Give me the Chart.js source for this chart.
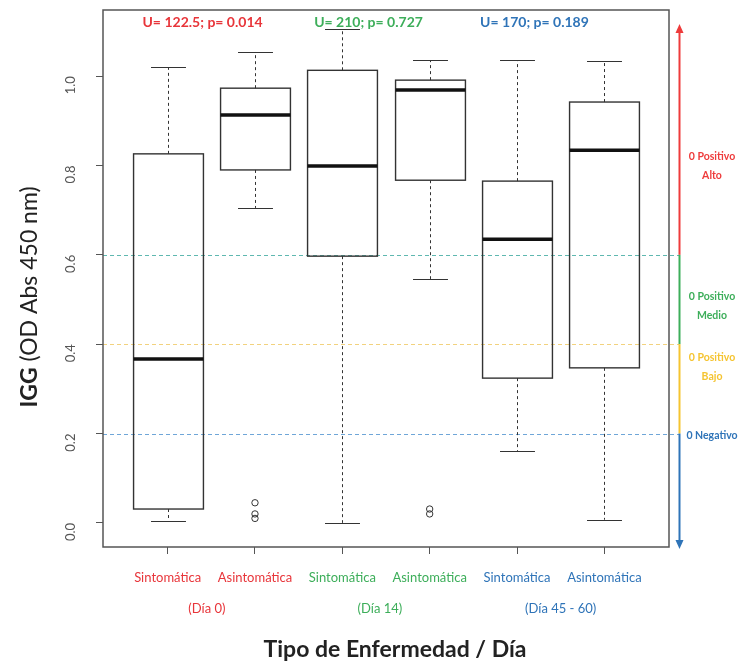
<!DOCTYPE html>
<html>
<head>
<meta charset="utf-8">
<script src="https://cdn.jsdelivr.net/npm/chart.js@4/dist/chart.umd.min.js"></script>
<style>
  html, body { margin: 0; padding: 0; background: #fff; }
  #wrap { width: 744px; height: 666px; }
</style>
</head>
<body>
<div id="wrap"><canvas id="boxChart" width="744" height="666"></canvas></div>
<script>
// Boxplot IgG par type de maladie / jour

const categories = ["Sintomática", "Asintomática", "Sintomática", "Asintomática", "Sintomática", "Asintomática"];
const groupLabels = ["(Día 0)", "(Día 14)", "(Día 45 - 60)"];
const groupLabelX = [1.45, 3.43, 5.5];
const groupColors = ["#e8353a", "#3dae5a", "#2f74b8"];
const testLabels = ["U= 122.5; p= 0.014", "U= 210; p= 0.727", "U= 170; p= 0.189"];
const testLabelX = [1.4, 3.3, 5.2];

const whiskerLow = [0.005, 0.705, 0.0, 0.546, 0.161, 0.007];
const q1Values = [0.031, 0.790, 0.597, 0.767, 0.324, 0.347];
const medianValues = [0.367, 0.913, 0.799, 0.969, 0.635, 0.834];
const q3Values = [0.826, 0.973, 1.013, 0.991, 0.765, 0.942];
const whiskerHigh = [1.020, 1.054, 1.105, 1.036, 1.036, 1.034];
const outlierValues = [[], [0.045, 0.020, 0.010], [], [0.031, 0.020], [], []];

const yTicks = [0.0, 0.2, 0.4, 0.6, 0.8, 1.0];
const cutoffValues = [0.6, 0.4, 0.2];
const cutoffColors = ["#5fb8b0", "#f2d27e", "#6fa6d8"];
const zoneLabels = [["0 Positivo", "Alto"], ["0 Positivo", "Medio"], ["0 Positivo", "Bajo"], ["0 Negativo"]];
const zoneColors = ["#ee3b3b", "#3dae5a", "#f5c431", "#2f74b8"];

const FONT = "Lato, 'Open Sans', sans-serif";

// points aberrants -> dataset scatter
const outlierPoints = [];
outlierValues.forEach((vals, i) => {
  vals.forEach(v => outlierPoints.push({ x: i + 1, y: v }));
});

const boxPlugin = {
  id: "boxPlugin",
  beforeDatasetsDraw(chart) {
    const ctx = chart.ctx;
    const x = chart.scales.x;
    const y = chart.scales.y;
    const area = chart.chartArea;

    // lignes de seuil
    ctx.save();
    ctx.lineWidth = 1.2;
    ctx.setLineDash([4, 3]);
    cutoffValues.forEach((v, i) => {
      const py = Math.round(y.getPixelForValue(v)) + 0.5;
      ctx.strokeStyle = cutoffColors[i];
      ctx.beginPath();
      ctx.moveTo(area.left, py);
      ctx.lineTo(area.right + 10, py);
      ctx.stroke();
    });
    ctx.restore();

    // boites
    ctx.save();
    const halfBox = x.getPixelForValue(1.4) - x.getPixelForValue(1);
    const halfCap = halfBox / 2;
    categories.forEach((c, i) => {
      const cx = Math.round(x.getPixelForValue(i + 1)) + 0.5;
      const yLow = y.getPixelForValue(whiskerLow[i]);
      const yQ1 = y.getPixelForValue(q1Values[i]);
      const yMed = y.getPixelForValue(medianValues[i]);
      const yQ3 = y.getPixelForValue(q3Values[i]);
      const yHigh = y.getPixelForValue(whiskerHigh[i]);

      ctx.strokeStyle = "#333";
      ctx.lineWidth = 1;
      ctx.setLineDash([3, 3]);
      ctx.beginPath();
      ctx.moveTo(cx, yQ3); ctx.lineTo(cx, yHigh);
      ctx.moveTo(cx, yQ1); ctx.lineTo(cx, yLow);
      ctx.stroke();

      ctx.setLineDash([]);
      ctx.beginPath();
      ctx.moveTo(cx - halfCap, Math.round(yHigh) + 0.5); ctx.lineTo(cx + halfCap, Math.round(yHigh) + 0.5);
      ctx.moveTo(cx - halfCap, Math.round(yLow) + 0.5); ctx.lineTo(cx + halfCap, Math.round(yLow) + 0.5);
      ctx.stroke();

      ctx.lineWidth = 1.4;
      ctx.strokeRect(cx - halfBox, yQ3, halfBox * 2, yQ1 - yQ3);

      ctx.lineWidth = 3.5;
      ctx.strokeStyle = "#111";
      ctx.beginPath();
      ctx.moveTo(cx - halfBox, yMed); ctx.lineTo(cx + halfBox, yMed);
      ctx.stroke();
    });
    ctx.restore();
  },
  afterDraw(chart) {
    const ctx = chart.ctx;
    const x = chart.scales.x;
    const y = chart.scales.y;
    const area = chart.chartArea;

    ctx.save();
    // cadre
    ctx.strokeStyle = "#555";
    ctx.lineWidth = 1.5;
    ctx.strokeRect(area.left, area.top, area.right - area.left, area.bottom - area.top);

    // tests U en haut
    ctx.font = "bold 14px " + FONT;
    ctx.textAlign = "center";
    ctx.textBaseline = "middle";
    testLabels.forEach((t, g) => {
      ctx.fillStyle = groupColors[g];
      ctx.fillText(t, x.getPixelForValue(testLabelX[g]), area.top + 12);
    });

    // jours sous l'axe
    ctx.font = "13px " + FONT;
    groupLabels.forEach((t, g) => {
      ctx.fillStyle = groupColors[g];
      ctx.fillText(t, x.getPixelForValue(groupLabelX[g]), 609);
    });

    // titre axe x
    ctx.fillStyle = "#222";
    ctx.font = "bold 23px " + FONT;
    ctx.fillText("Tipo de Enfermedad / Día", 395, 650);

    // titre axe y (IGG en gras)
    ctx.save();
    ctx.translate(30, 297);
    ctx.rotate(-Math.PI / 2);
    ctx.textAlign = "left";
    ctx.font = "bold 23px " + FONT;
    const w1 = ctx.measureText("IGG").width;
    ctx.font = "23px " + FONT;
    const w2 = ctx.measureText(" (OD Abs 450 nm)").width;
    const sx = -(w1 + w2) / 2;
    ctx.fillStyle = "#222";
    ctx.font = "bold 23px " + FONT;
    ctx.fillText("IGG", sx, 0);
    ctx.font = "23px " + FONT;
    ctx.fillText(" (OD Abs 450 nm)", sx + w1, 0);
    ctx.restore();

    // fleche des zones
    const ax = 679.5;
    const yTop = 30, yBot = 543;
    const bounds = [yTop, y.getPixelForValue(0.6), y.getPixelForValue(0.4), y.getPixelForValue(0.2), yBot];
    ctx.lineWidth = 2;
    for (let i = 0; i < 4; i++) {
      ctx.strokeStyle = zoneColors[i];
      ctx.beginPath();
      ctx.moveTo(ax, bounds[i]);
      ctx.lineTo(ax, bounds[i + 1]);
      ctx.stroke();
    }
    ctx.fillStyle = zoneColors[0];
    ctx.beginPath();
    ctx.moveTo(ax, yTop - 6); ctx.lineTo(ax - 4, yTop + 3); ctx.lineTo(ax + 4, yTop + 3);
    ctx.fill();
    ctx.fillStyle = zoneColors[3];
    ctx.beginPath();
    ctx.moveTo(ax, yBot + 6); ctx.lineTo(ax - 4, yBot - 3); ctx.lineTo(ax + 4, yBot - 3);
    ctx.fill();

    // etiquettes des zones
    const labelY = [157, 297, 358, 436];
    ctx.font = "bold 10.5px " + FONT;
    ctx.textAlign = "center";
    zoneLabels.forEach((lines, i) => {
      ctx.fillStyle = zoneColors[i];
      lines.forEach((l, k) => ctx.fillText(l, 712, labelY[i] + k * 19));
    });
    ctx.restore();
  }
};

const canvas = document.getElementById("boxChart");
new Chart(canvas.getContext("2d"), {
  type: "scatter",
  data: {
    datasets: [{
      label: "Outliers",
      data: outlierPoints,
      pointStyle: "circle",
      pointRadius: 3.2,
      borderColor: "#333",
      borderWidth: 1,
      backgroundColor: "rgba(0,0,0,0)"
    }]
  },
  options: {
    responsive: false,
    animation: false,
    layout: { autoPadding: false, padding: { top: 10, right: 75, left: 0, bottom: 0 } },
    plugins: {
      legend: { display: false },
      tooltip: { enabled: false }
    },
    scales: {
      x: {
        type: "linear",
        min: 0.26,
        max: 6.74,
        afterBuildTicks: scale => { scale.ticks = categories.map((c, i) => ({ value: i + 1 })); },
        afterFit: scale => { scale.height = 119; },
        grid: { drawOnChartArea: false, drawTicks: true, tickLength: 7, color: "#555" },
        border: { display: false },
        ticks: {
          autoSkip: false,
          maxRotation: 0,
          padding: 16,
          font: { family: FONT, size: 13 },
          color: c => groupColors[Math.floor(c.index / 2)],
          callback: v => categories[v - 1]
        }
      },
      y: {
        min: -0.054,
        max: 1.148,
        afterBuildTicks: scale => { scale.ticks = yTicks.map(v => ({ value: v })); },
        afterFit: scale => {
          scale.width = 103;
          scale.paddingTop = 0;
          scale.paddingBottom = 0;
        },
        grid: { drawOnChartArea: false, drawTicks: true, tickLength: 7, color: "#555" },
        border: { display: false },
        ticks: {
          minRotation: 90,
          maxRotation: 90,
          padding: 25,
          font: { family: FONT, size: 13 },
          color: "#555",
          callback: v => v.toFixed(1)
        }
      }
    }
  },
  plugins: [boxPlugin]
});
</script>
</body>
</html>
